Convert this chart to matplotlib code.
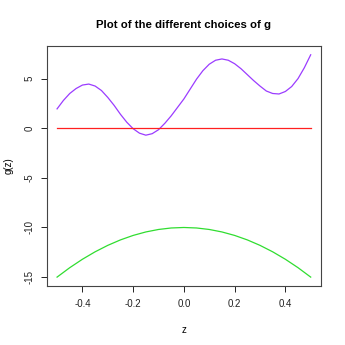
import numpy as np
import matplotlib.pyplot as plt

plt.rcParams['font.family'] = ['Liberation Sans', 'DejaVu Sans']

# values
z = [-0.5, -0.475, -0.45, -0.425, -0.4, -0.375, -0.35, -0.325, -0.3, -0.275,
     -0.25, -0.225, -0.2, -0.175, -0.15, -0.125, -0.1, -0.075, -0.05, -0.025,
     0.0, 0.025, 0.05, 0.075, 0.1, 0.125, 0.15, 0.175, 0.2, 0.225,
     0.25, 0.275, 0.3, 0.325, 0.35, 0.375, 0.4, 0.425, 0.45, 0.475, 0.5]
g_purple = [1.95, 2.8, 3.5, 4.0, 4.35, 4.45, 4.25, 3.8, 3.1, 2.3,
            1.4, 0.6, -0.05, -0.5, -0.7, -0.55, -0.15, 0.5, 1.25, 2.1,
            2.95, 3.95, 4.95, 5.8, 6.45, 6.85, 6.98, 6.85, 6.5, 6.0,
            5.4, 4.8, 4.25, 3.75, 3.5, 3.45, 3.7, 4.2, 5.0, 6.1, 7.4]
g_red = [0.0] * len(z)

z_green = [-0.5, -0.45, -0.4, -0.35, -0.3, -0.25, -0.2, -0.15, -0.1, -0.05, 0.0,
           0.05, 0.1, 0.15, 0.2, 0.25, 0.3, 0.35, 0.4, 0.45, 0.5]
g_green = [-15.0, -14.05, -13.2, -12.45, -11.8, -11.25, -10.8, -10.45, -10.2, -10.05, -10.0,
           -10.05, -10.2, -10.45, -10.8, -11.25, -11.8, -12.45, -13.2, -14.05, -15.0]

xticks = [-0.4, -0.2, 0.0, 0.2, 0.4]
yticks = [-15, -10, -5, 0, 5]

fig = plt.figure(figsize=(3.45, 3.45), dpi=100)
ax = fig.add_axes([0.136, 0.171, 0.794, 0.696])

ax.plot(z, g_purple, color='#9B3CFF', lw=0.9)
ax.plot(z, g_red, color='#FF2020', lw=0.9)
ax.plot(z_green, g_green, color='#30DD30', lw=0.9)

ymin, ymax = min(g_green), max(g_purple)
pad = 0.04 * (ymax - ymin)
ax.set_ylim(ymin - pad, ymax + pad)
ax.set_xlim(-0.5 - 0.04, 0.5 + 0.04)

ax.set_xticks(xticks)
ax.set_xticklabels(['%.1f' % t for t in xticks])
ax.set_yticks(yticks)
ax.set_yticklabels([str(t) for t in yticks], rotation=90, va='center')
ax.tick_params(direction='out', length=4, width=0.7, labelsize=7, pad=5, colors='#222222')
for s in ax.spines.values():
    s.set_linewidth(0.8)
    s.set_color('#444444')

ax.set_xlabel('z', fontsize=7, labelpad=12)
ax.set_ylabel('g(z)', fontsize=7, labelpad=8)
ax.set_title('Plot of the different choices of g', fontsize=8.2, fontweight='bold', pad=13)

plt.savefig('out.png', dpi=100)
